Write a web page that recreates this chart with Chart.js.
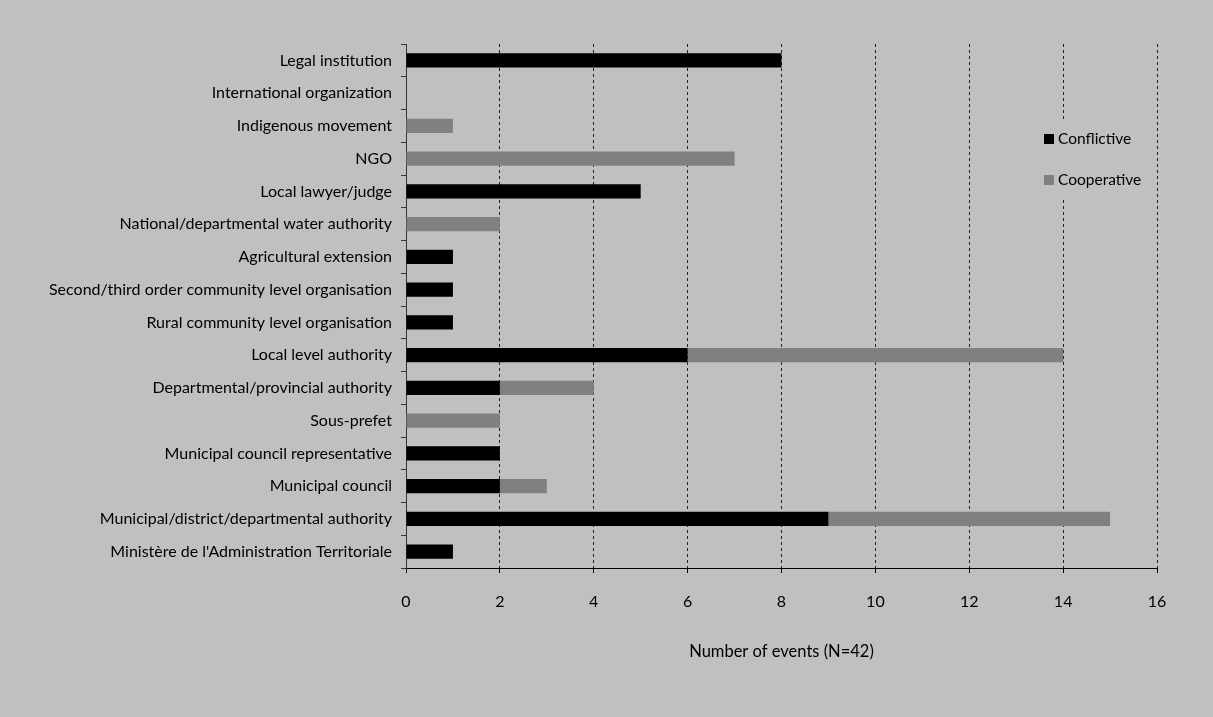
<!DOCTYPE html>
<html>
<head>
<meta charset="utf-8">
<script src="https://cdn.jsdelivr.net/npm/chart.js@4/dist/chart.umd.min.js"></script>
<style>
  body { margin: 0; background: #ffffff; }
  #wrap { width: 1213px; height: 717px; background: #c0c0c0; }
</style>
</head>
<body>
<div id="wrap"><canvas id="graph"></canvas></div>
<script>
const categories = [
  'Legal institution',
  'International organization',
  'Indigenous movement',
  'NGO',
  'Local lawyer/judge',
  'National/departmental water authority',
  'Agricultural extension',
  'Second/third order community level organisation',
  'Rural community level organisation',
  'Local level authority',
  'Departmental/provincial authority',
  'Sous-prefet',
  'Municipal council representative',
  'Municipal council',
  'Municipal/district/departmental authority',
  "Ministère de l'Administration Territoriale"
];
const conflictive = [8, 0, 0, 0, 5, 0, 1, 1, 1, 6, 2, 0, 2, 2, 9, 1];
const cooperative = [0, 0, 1, 7, 0, 2, 0, 0, 0, 8, 2, 2, 0, 1, 6, 0];
const xTicks = [0, 2, 4, 6, 8, 10, 12, 14, 16];

const fontFam = 'Lato, "Open Sans", sans-serif';

// legend drawn inside the plot, on a grey box like the original
const boxLegend = {
  id: 'boxLegend',
  afterDraw(chart) {
    const ctx = chart.ctx;
    const area = chart.chartArea;
    const x0 = area.right - 113;
    const y0 = area.top + 76;
    ctx.save();
    ctx.fillStyle = '#c0c0c0';
    ctx.fillRect(x0 - 4, y0, 110, 77);
    ctx.font = '15.5px ' + fontFam;
    ctx.textBaseline = 'middle';
    chart.data.datasets.forEach(function (ds, i) {
      const y = y0 + 19 + i * 41;
      ctx.fillStyle = ds.backgroundColor;
      ctx.fillRect(x0, y - 5, 10, 10);
      ctx.fillStyle = '#000';
      ctx.fillText(ds.label, x0 + 14, y);
    });
    ctx.restore();
  }
};

const graph = new Chart(document.getElementById('graph'), {
  type: 'bar',
  data: {
    labels: categories,
    datasets: [
      { label: 'Conflictive', data: conflictive, backgroundColor: '#000000',
        barPercentage: 0.43, categoryPercentage: 1 },
      { label: 'Cooperative', data: cooperative, backgroundColor: '#808080',
        barPercentage: 0.43, categoryPercentage: 1 }
    ]
  },
  options: {
    indexAxis: 'y',
    responsive: true,
    maintainAspectRatio: false,
    animation: false,
    layout: { padding: { top: 44, right: 56, left: 0, bottom: 0 } },
    plugins: {
      legend: { display: false },
      tooltip: { enabled: false }
    },
    scales: {
      x: {
        stacked: true,
        min: 0,
        max: 16,
        afterBuildTicks(scale) {
          scale.ticks = xTicks.map(v => ({ value: v }));
        },
        afterFit(scale) { scale.height = 149; },
        border: { display: true, color: '#000', width: 1, dash: [3, 3] },
        grid: {
          color: '#222',
          tickLength: 5,
          tickColor: '#000',
          tickBorderDash: [1, 0]
        },
        ticks: {
          color: '#000',
          padding: 19,
          font: { family: fontFam, size: 16 }
        },
        title: {
          display: true,
          text: 'Number of events (N=42)',
          color: '#000',
          font: { family: fontFam, size: 16.5 },
          padding: { top: 0, bottom: 55 }
        }
      },
      y: {
        stacked: true,
        afterFit(scale) { scale.width = 406; },
        border: { display: true, color: '#333', width: 1 },
        grid: {
          drawOnChartArea: false,
          tickLength: 5,
          tickColor: '#333'
        },
        ticks: {
          color: '#000',
          padding: 9,
          autoSkip: false,
          font: { family: fontFam, size: 16 }
        }
      }
    }
  },
  plugins: [boxLegend]
});
</script>
</body>
</html>
